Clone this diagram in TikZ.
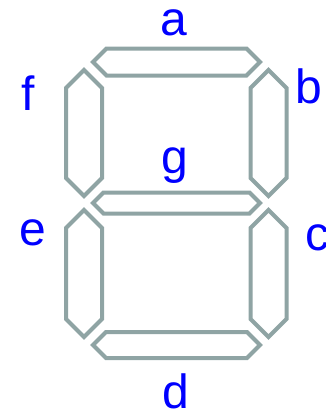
\documentclass[tikz,border=0pt]{standalone}
\usepackage{fontspec}
\setmainfont{Liberation Sans}

\definecolor{segcol}{RGB}{143,164,164}
\definecolor{lblcol}{RGB}{0,0,255}

% horizontal segment: centre x, centre y, half length, half height
\newcommand{\hseg}[4]{%
  \draw[seg] (#1-#3,#2) -- (#1-#3+#4,#2-#4) -- (#1+#3-#4,#2-#4)
    -- (#1+#3,#2) -- (#1+#3-#4,#2+#4) -- (#1-#3+#4,#2+#4) -- cycle;}
% vertical segment: centre x, top tip y, bottom tip y, half width
\newcommand{\vseg}[4]{%
  \draw[seg] (#1,#2) -- (#1+#4,#2+#4) -- (#1+#4,#3-#4)
    -- (#1,#3) -- (#1-#4,#3-#4) -- (#1-#4,#2+#4) -- cycle;}

\begin{document}
\begin{tikzpicture}[
  x=1pt, y=-1pt,
  seg/.style={draw=segcol, line width=4pt, fill=white},
  lbl/.style={text=lblcol, anchor=base, inner sep=0pt,
    font=\fontsize{48}{48}\selectfont},
]
  \useasboundingbox (0,0) rectangle (326,413);

  % segments
  \hseg{176.5}{62}{83.5}{13.5}   % a
  \vseg{268.5}{70}{196}{18}      % b
  \vseg{268.5}{210}{337}{18}     % c
  \hseg{176.5}{345}{83.5}{13}    % d
  \vseg{84}{210}{337}{18}        % e
  \vseg{84}{70}{196}{18}         % f
  \hseg{176.5}{203}{83.5}{10.5}  % g

  % labels
  \node[lbl] (la) at (174,35)  {a};
  \node[lbl] (lb) at (309,103) {b};
  \node[lbl] (lc) at (317,250) {c};
  \node[lbl] (ld) at (176,408) {d};
  \node[lbl] (le) at (33,245)  {e};
  \node[lbl] (lf) at (28,110)  {f};
  \node[lbl] (lg) at (175,173) {g};
\end{tikzpicture}
\end{document}
